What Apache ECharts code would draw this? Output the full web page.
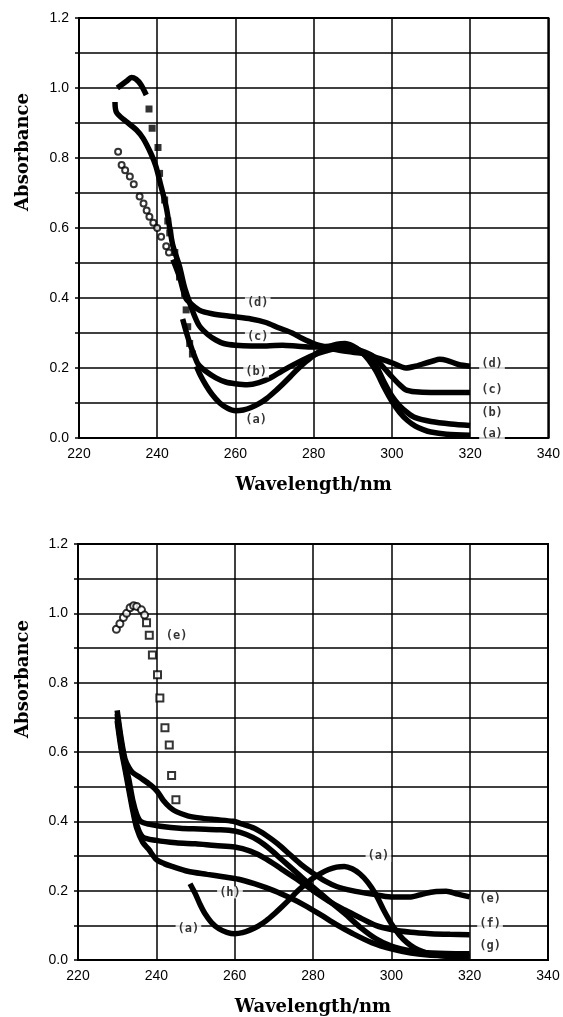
<!DOCTYPE html>
<html>
<head>
<meta charset="utf-8">
<script src="https://cdn.jsdelivr.net/npm/echarts@6/dist/echarts.min.js"></script>
<style>
  html, body { margin: 0; padding: 0; background: #fff; }
  #main { width: 563px; height: 1017px; }
</style>
</head>
<body>
<div id="main"></div>
<script>
// upper panel: curves (a)-(d)
const topAPeak = [[229.8,1.0],[231,1.01],[232.2,1.02],[233.4,1.03],[234.6,1.025],[235.8,1.01],[237.2,0.98]]
const topAMarks = [[237.9,0.94],[238.7,0.885],[240.2,0.83],[240.6,0.756],[241.9,0.68],[242.7,0.62],[243.2,0.586],[244.5,0.53],[245.7,0.46],[247,0.413],[247.4,0.366],[247.8,0.318],[248.3,0.27],[249,0.24]]
const topALine = [[250,0.205],[251,0.18],[252.5,0.15],[254,0.125],[256,0.1],[258,0.085],[260,0.078],[262,0.08],[264,0.087],[266,0.098],[268,0.113],[270,0.132],[272,0.153],[274,0.175],[276,0.198],[278,0.218],[280,0.236],[282,0.25],[284,0.261],[286,0.268],[288,0.27],[290,0.263],[292,0.248],[294,0.224],[296,0.19],[298,0.145],[300,0.105],[302,0.073],[304,0.05],[306,0.034],[308,0.024],[310,0.017],[314,0.011],[320,0.008]]
const topBLine = [[246.5,0.34],[247.5,0.3],[248.5,0.265],[249.5,0.235],[250.5,0.21],[252.5,0.19],[255,0.172],[257.5,0.16],[260,0.155],[263,0.152],[266,0.158],[269,0.172],[272,0.192],[276,0.216],[280,0.237],[283,0.248],[286,0.256],[289,0.256],[292,0.245],[294,0.23],[296,0.205],[298,0.16],[300,0.12],[302,0.092],[304,0.072],[306,0.058],[310,0.047],[315,0.04],[320,0.036]]
const topCLine = [[229.2,0.96],[229.6,0.93],[232,0.905],[234.7,0.88],[236.4,0.856],[238.5,0.81],[239.7,0.775],[241,0.718],[242.3,0.66],[243.2,0.6],[244,0.55],[245.7,0.49],[247,0.43],[248.2,0.39],[249.5,0.35],[250.8,0.32],[253,0.295],[255,0.28],[257,0.27],[260,0.265],[264,0.263],[268,0.263],[272,0.265],[276,0.262],[280,0.26],[284,0.262],[288,0.262],[292,0.25],[295,0.235],[298,0.2],[300,0.175],[302,0.152],[303.5,0.138],[306,0.132],[310,0.13],[315,0.13],[320,0.13]]
const topDMarks = [[230,0.818],[230.9,0.78],[231.8,0.765],[233,0.747],[234,0.725],[235.5,0.69],[236.5,0.67],[237.3,0.65],[238,0.632],[239,0.615],[240,0.6],[241,0.575],[242.3,0.548],[243,0.53]]
const topDLine = [[244,0.51],[245.7,0.46],[247.3,0.4],[249,0.38],[250.8,0.365],[254,0.355],[259.2,0.347],[264,0.34],[267.8,0.33],[271,0.315],[274.5,0.3],[277,0.285],[280,0.27],[283,0.26],[286,0.252],[290,0.245],[293.3,0.24],[296,0.23],[300,0.215],[303.6,0.2],[306,0.205],[308,0.212],[310.5,0.22],[312.2,0.225],[314,0.222],[317,0.21],[320,0.205]]
const topNotes = [[265.7,0.385,'(d)'],[265.7,0.29,'(c)'],[265.3,0.19,'(b)'],[265.3,0.051,'(a)'],[325.6,0.213,'(d)'],[325.6,0.137,'(c)'],[325.6,0.072,'(b)'],[325.6,0.013,'(a)']]

// lower panel: curve (a) again plus (e)-(h)
const botACircles = [[229.8,0.954],[230.7,0.97],[231.6,0.988],[232.4,1.0],[233.3,1.016],[234.2,1.022],[235,1.02],[236.2,1.01],[237,0.995]]
const botASquares = [[237.5,0.973],[238.2,0.937],[239,0.88],[240.3,0.823],[240.9,0.756],[242.2,0.67],[243.3,0.62],[243.9,0.532],[245,0.462]]
const botALine = [[248.6,0.22],[250,0.19],[251.1,0.162],[252.4,0.134],[254.1,0.108],[256,0.09],[258,0.08],[260,0.076],[262,0.079],[264,0.087],[266,0.098],[268,0.113],[270,0.132],[272,0.153],[274,0.175],[276,0.198],[278,0.218],[280,0.236],[282,0.25],[284,0.261],[286,0.268],[288,0.27],[290,0.263],[292,0.248],[294,0.224],[296,0.19],[298,0.145],[300,0.105],[302,0.073],[304,0.05],[306,0.034],[308,0.024],[310,0.017],[314,0.011],[320,0.008]]
const botELine = [[230,0.72],[231,0.64],[232,0.58],[233,0.555],[234,0.54],[236,0.525],[238.5,0.505],[240.2,0.487],[241.8,0.46],[243.5,0.44],[245.1,0.428],[248,0.416],[251,0.41],[255,0.405],[259.6,0.4],[262,0.392],[265,0.38],[268,0.36],[271,0.335],[274,0.305],[277,0.275],[280,0.25],[283,0.228],[286,0.212],[290,0.2],[295,0.19],[300,0.182],[305,0.182],[308,0.19],[311,0.197],[314,0.198],[317,0.19],[320,0.182]]
const botFLine = [[230,0.7],[231,0.62],[232,0.56],[233,0.5],[234,0.44],[235,0.39],[236.5,0.355],[240,0.345],[245,0.338],[250,0.335],[255,0.33],[260,0.326],[264,0.314],[268,0.292],[272,0.262],[276,0.232],[280,0.2],[284,0.17],[288,0.145],[292,0.122],[296,0.1],[300,0.088],[305,0.08],[310,0.076],[315,0.074],[320,0.073]]
const botGLine = [[230,0.71],[231,0.63],[232,0.57],[233,0.52],[234,0.46],[235,0.42],[236,0.4],[238,0.392],[241,0.386],[246,0.38],[251,0.378],[256,0.376],[260,0.372],[263,0.362],[266,0.345],[269,0.32],[272,0.29],[276,0.25],[280,0.21],[284,0.172],[288,0.135],[292,0.095],[296,0.062],[300,0.04],[304,0.028],[308,0.022],[314,0.019],[320,0.018]]
const botHLine = [[230,0.69],[231,0.61],[232,0.55],[233,0.49],[234,0.43],[235,0.38],[236.5,0.34],[238,0.32],[240,0.29],[242,0.278],[244,0.27],[248,0.256],[253,0.247],[257,0.24],[261,0.233],[265,0.22],[270,0.2],[274,0.18],[278,0.157],[282,0.13],[286,0.102],[290,0.077],[295,0.05],[300,0.032],[305,0.02],[310,0.014],[320,0.01]]
const botNotes = [[245.2,0.935,'(e)'],[296.7,0.3,'(a)'],[258.8,0.195,'(h)'],[248.2,0.09,'(a)'],[325.2,0.176,'(e)'],[325.2,0.104,'(f)'],[325.2,0.042,'(g)']]

const chart = echarts.init(document.getElementById('main'))

const black = '#000'
const grids = [
  { left: 79, top: 18, width: 471, height: 420 },
  { left: 78, top: 544, width: 470, height: 419 }
]
const serif = 'bold 18px "DejaVu Serif"'

function xAxis(i) {
  return {
    gridIndex: i, type: 'value', min: 220, max: 340, interval: 20,
    axisLine: { lineStyle: { color: black, width: 2 } },
    axisTick: { show: false },
    splitLine: { lineStyle: { color: black, width: 1.5 } },
    axisLabel: { color: black, fontSize: 14, fontFamily: 'Liberation Sans', margin: 9 },
    name: 'Wavelength/nm', nameLocation: 'middle', nameGap: 38,
    nameTextStyle: { color: black, fontSize: 18, fontWeight: 'bold', fontFamily: 'DejaVu Serif' }
  }
}
function yAxis(i) {
  return {
    gridIndex: i, type: 'value', min: 0, max: 1.2, interval: 0.1,
    axisLine: { lineStyle: { color: black, width: 2 } },
    axisTick: { show: true, length: 4, lineStyle: { color: black, width: 1.5 } },
    splitLine: { lineStyle: { color: black, width: 1.5 } },
    axisLabel: {
      color: black, fontSize: 14, fontFamily: 'Liberation Sans', margin: 10,
      formatter(v) { return Math.round(v * 10) % 2 === 0 ? v.toFixed(1) : '' }
    }
  }
}

function line(i, data) {
  return {
    type: 'line', xAxisIndex: i, yAxisIndex: i, data: data, smooth: 0.3,
    showSymbol: false, lineStyle: { color: black, width: 5.5 }, z: 3
  }
}
function marks(i, data, symbol, size, border) {
  return {
    type: 'scatter', xAxisIndex: i, yAxisIndex: i, data: data,
    symbol: symbol, symbolSize: size,
    itemStyle: { color: black, borderColor: black, borderWidth: border }, z: 4
  }
}
function notes(i, list) {
  return {
    type: 'scatter', xAxisIndex: i, yAxisIndex: i, symbolSize: 0, z: 6,
    data: list.map(n => ({ value: [n[0], n[1]], name: n[2] })),
    label: {
      show: true, position: 'inside', formatter: '{b}', color: black,
      fontSize: 12, fontWeight: 'bold', fontFamily: 'DejaVu Sans Mono',
      backgroundColor: '#fff', padding: [0, 2]
    }
  }
}

const option = {
  backgroundColor: '#fff',
  animation: false,
  grid: grids.map(g => Object.assign({ show: true, borderColor: black, borderWidth: 2 }, g)),
  xAxis: [xAxis(0), xAxis(1)],
  yAxis: [yAxis(0), yAxis(1)],
  graphic: [
    { type: 'text', left: 14, top: 93, rotation: Math.PI / 2,
      style: { text: 'Absorbance', fill: black, font: serif } },
    { type: 'text', left: 14, top: 620, rotation: Math.PI / 2,
      style: { text: 'Absorbance', fill: black, font: serif } }
  ],
  series: [
    line(0, topAPeak),
    marks(0, topAMarks, 'rect', 7, 0),
    line(0, topALine),
    line(0, topBLine),
    line(0, topCLine),
    marks(0, topDMarks, 'emptyCircle', 6, 1.5),
    line(0, topDLine),
    notes(0, topNotes),
    marks(1, botACircles, 'emptyCircle', 7, 1.8),
    marks(1, botASquares, 'emptyRect', 7, 2),
    line(1, botALine),
    line(1, botELine),
    line(1, botFLine),
    line(1, botGLine),
    line(1, botHLine),
    notes(1, botNotes)
  ]
}
chart.setOption(option)
</script>
</body>
</html>
